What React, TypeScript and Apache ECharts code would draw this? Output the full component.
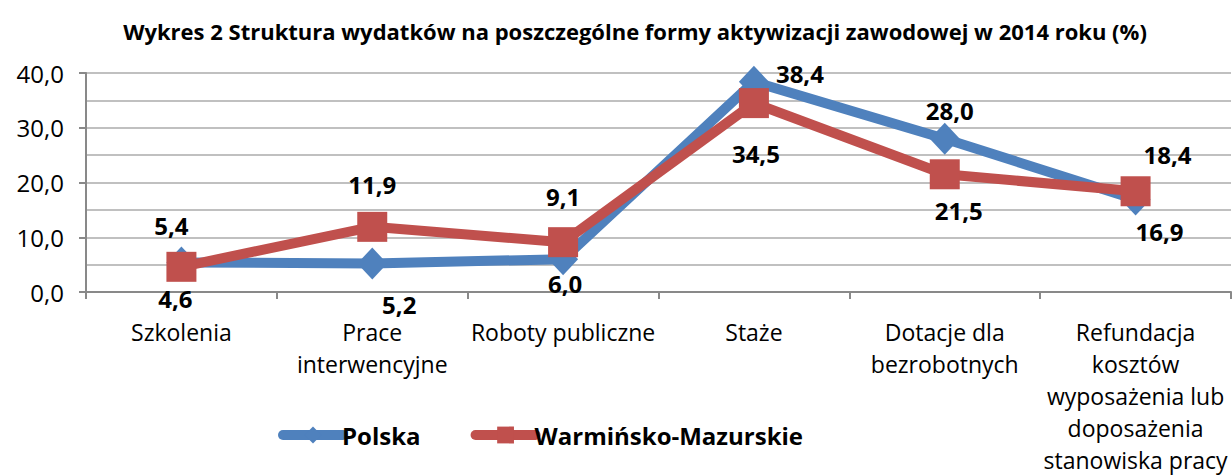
import React, { useEffect, useRef } from "react";
import * as echarts from "echarts";

const categories = [
  "Szkolenia",
  "Prace\ninterwencyjne",
  "Roboty publiczne",
  "Staże",
  "Dotacje dla\nbezrobotnych",
  "Refundacja\nkosztów\nwyposażenia lub\ndoposażenia\nstanowiska pracy",
];
const polska = [5.4, 5.2, 6.0, 38.4, 28.0, 16.9];
const warminskoMazurskie = [4.6, 11.9, 9.1, 34.5, 21.5, 18.4];
const seriesNames = ["Polska", "Warmińsko-Mazurskie"];
const titleText =
  "Wykres 2 Struktura wydatków na poszczególne formy aktywizacji zawodowej w 2014 roku (%)";

const FONT = "'Open Sans', sans-serif";

// label offsets (px) relative to point centre, mimicking the original placement
const polskaLabelOffsets = [
  [-10, -37],
  [27, 41],
  [2, 24],
  [46, -8],
  [5, -28],
  [24, 32],
];
const wmLabelOffsets = [
  [-6, 32],
  [0, -42],
  [0, -46],
  [2, 50],
  [14, 36],
  [32, -37],
];

const fmt = (v: number) => v.toFixed(1).replace(".", ",");

export default function App() {
  const ref = useRef<HTMLDivElement>(null);
  useEffect(() => {
    if (!ref.current) return;
    const chart = echarts.init(ref.current, null, { renderer: "svg" });
    const labelBase = {
      show: true,
      position: "inside",
      fontFamily: FONT,
      fontWeight: "bold",
      fontSize: 24,
      lineHeight: 16,
      color: "#000",
      formatter: (p: any) => fmt(p.value),
    };
    const mkData = (vals: number[], offs: number[][]) =>
      vals.map((v, i) => ({
        value: v,
        label: { offset: offs[i] },
      }));
    chart.setOption({
      animation: false,
      title: {
        text: titleText,
        left: 630,
        top: 15,
        textAlign: "center",
        textStyle: {
          fontFamily: FONT,
          fontWeight: "bold",
          fontSize: 22,
          color: "#000",
        },
      },
      legend: {
        left: 273,
        top: 418,
        itemWidth: 60,
        itemHeight: 21,
        itemGap: 50,
        data: seriesNames,
        lineStyle: { width: 10, cap: "round" },
        textStyle: {
          fontFamily: FONT,
          fontWeight: "bold",
          fontSize: 24,
          color: "#000",
          padding: [0, 0, 0, -6],
        },
      },
      grid: { left: 86, right: 1, top: 73, bottom: 175, containLabel: false },
      xAxis: {
        type: "category",
        data: categories,
        boundaryGap: true,
        axisLine: { lineStyle: { color: "#898989", width: 2 } },
        axisTick: { show: true, length: 7, lineStyle: { color: "#898989", width: 2 } },
        axisLabel: {
          interval: 0,
          margin: 24,
          fontFamily: FONT,
          fontSize: 23,
          lineHeight: 32,
          color: "#000",
        },
      },
      yAxis: {
        type: "value",
        min: 0,
        max: 40,
        interval: 10,
        axisLine: { show: true, lineStyle: { color: "#898989", width: 2 } },
        axisTick: { show: true, length: 7, lineStyle: { color: "#898989", width: 2 } },
        axisLabel: {
          margin: 22,
          fontFamily: FONT,
          fontSize: 24,
          color: "#000",
          formatter: (v: number) => fmt(v),
        },
        splitLine: { show: true, lineStyle: { color: "#c0c0c0", width: 2 } },
        minorTick: { show: false, splitNumber: 2 },
        minorSplitLine: { show: true, lineStyle: { color: "#c0c0c0", width: 2 } },
      },
      series: [
        {
          name: seriesNames[0],
          type: "line",
          data: mkData(polska, polskaLabelOffsets),
          symbol: "diamond",
          symbolSize: [30, 32],
          itemStyle: { color: "#4f81bd" },
          lineStyle: { color: "#4f81bd", width: 10, cap: "round", join: "round" },
          label: labelBase,
          z: 2,
        },
        {
          name: seriesNames[1],
          type: "line",
          data: mkData(warminskoMazurskie, wmLabelOffsets),
          symbol: "rect",
          symbolSize: 30,
          itemStyle: { color: "#c0504d" },
          lineStyle: { color: "#c0504d", width: 10, cap: "round", join: "round" },
          label: labelBase,
          z: 3,
        },
      ],
    });
    return () => chart.dispose();
  }, []);
  return (
    <div
      ref={ref}
      style={{ position: "absolute", left: 0, top: 0, width: 1232, height: 476, background: "#fff" }}
    />
  );
}
